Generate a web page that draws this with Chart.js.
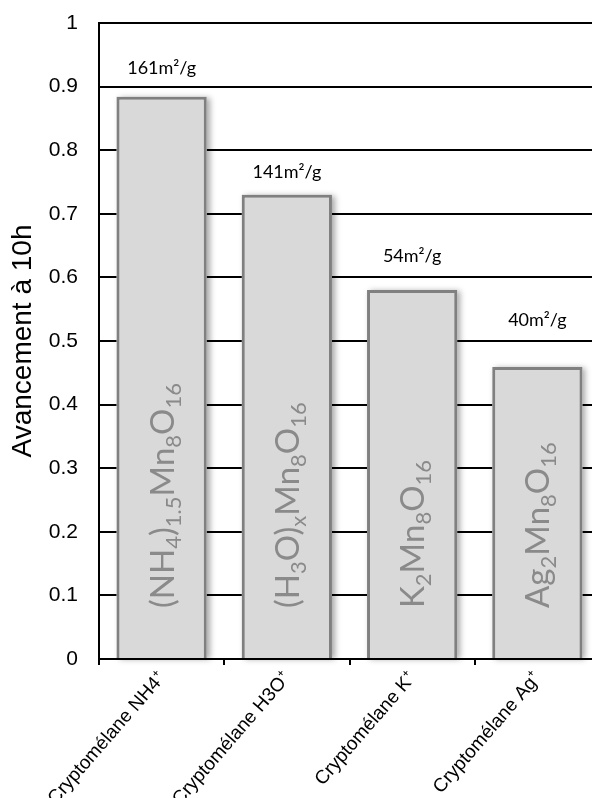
<!DOCTYPE html>
<html>
<head>
<meta charset="utf-8">
<script src="https://cdn.jsdelivr.net/npm/chart.js@4.4.0/dist/chart.umd.min.js"></script>
<style>
    html, body { margin: 0; padding: 0; background: #fff; overflow: hidden; }
    #wrap { width: 600px; height: 798px; }
</style>
</head>
<body>
<div id="wrap"><canvas id="chart" width="600" height="798"></canvas></div>
<script>
// données
const categories = ['Cryptomélane NH4⁺', 'Cryptomélane H3O⁺', 'Cryptomélane K⁺', 'Cryptomélane Ag⁺'];
const advancement = [0.884, 0.730, 0.580, 0.459];
const surfaceAreas = ['161m²/g', '141m²/g', '54m²/g', '40m²/g'];
// formules : [texte, indice ?]
const formulas = [
    [['(NH', false], ['4', true], [')', false], ['1.5', true], ['Mn', false], ['8', true], ['O', false], ['16', true]],
    [['(H', false], ['3', true], ['O)', false], ['x', true], ['Mn', false], ['8', true], ['O', false], ['16', true]],
    [['K', false], ['2', true], ['Mn', false], ['8', true], ['O', false], ['16', true]],
    [['Ag', false], ['2', true], ['Mn', false], ['8', true], ['O', false], ['16', true]]
];

const COLORS = {
    barFill: '#d9d9d9',
    barBorder: '#808080',
    formula: '#8a8a8a',
    axis: '#000000'
};

// ombre des barres + textes (surface spécifique, formule)
const barDecor = {
    id: 'barDecor',
    beforeDatasetsDraw(chart) {
        const ctx = chart.ctx;
        chart.getDatasetMeta(0).data.forEach(bar => {
            const w = bar.width;
            ctx.save();
            ctx.shadowColor = 'rgba(0, 0, 0, 0.35)';
            ctx.shadowBlur = 6;
            ctx.shadowOffsetX = 3;
            ctx.shadowOffsetY = 1;
            ctx.fillStyle = COLORS.barFill;
            ctx.fillRect(bar.x - w / 2, bar.y, w, bar.base - bar.y);
            ctx.restore();
        });
    },
    afterDatasetsDraw(chart, args, opts) {
        const ctx = chart.ctx;
        chart.getDatasetMeta(0).data.forEach((bar, i) => {
            ctx.save();
            ctx.font = '18px Lato';
            ctx.fillStyle = '#000';
            ctx.textAlign = 'center';
            ctx.textBaseline = 'middle';
            ctx.fillText(surfaceAreas[i], bar.x, bar.y - opts.labelOffsets[i]);
            ctx.restore();

            ctx.save();
            ctx.translate(bar.x + 12, bar.base - 50);
            ctx.rotate(-Math.PI / 2);
            ctx.fillStyle = COLORS.formula;
            ctx.textBaseline = 'alphabetic';
            let x = 0;
            formulas[i].forEach(([t, sub]) => {
                ctx.font = sub ? '22px Lato' : '33px Lato';
                ctx.fillText(t, x, sub ? 7 : 0);
                x += ctx.measureText(t).width;
            });
            ctx.restore();
        });
    }
};

new Chart(document.getElementById('chart'), {
    type: 'bar',
    data: {
        labels: categories,
        datasets: [{
            data: advancement,
            backgroundColor: COLORS.barFill,
            borderColor: COLORS.barBorder,
            borderWidth: 3,
            categoryPercentage: 1,
            barPercentage: 0.72
        }]
    },
    options: {
        responsive: false,
        animation: false,
        layout: { padding: { top: 23, right: 0, left: 0, bottom: 0 } },
        plugins: {
            legend: { display: false },
            tooltip: { enabled: false },
            barDecor: { labelOffsets: [29, 23, 34, 47] }
        },
        scales: {
            y: {
                min: 0,
                max: 1,
                afterFit: s => { s.width = 99; s.paddingTop = 0; s.paddingBottom = 0; },
                ticks: {
                    stepSize: 0.1,
                    padding: 21,
                    color: '#000',
                    font: { family: "'Liberation Sans', Arial, sans-serif", size: 21 },
                    callback: v => String(Number(v.toFixed(1)))
                },
                grid: { color: COLORS.axis, lineWidth: 2, drawTicks: false },
                border: { display: true, color: COLORS.axis, width: 2 },
                title: {
                    display: true,
                    text: 'Avancement à 10h',
                    color: '#000',
                    font: { family: "'Liberation Sans', Arial, sans-serif", size: 28 },
                    padding: { top: 6, bottom: 0 }
                }
            },
            x: {
                afterFit: s => { s.height = 139; s.paddingLeft = 0; s.paddingRight = 0; },
                ticks: {
                    minRotation: 49,
                    maxRotation: 49,
                    autoSkip: false,
                    padding: 3,
                    color: '#000',
                    font: { family: "'Liberation Sans', Arial, sans-serif", size: 19 }
                },
                grid: { drawOnChartArea: false, offset: true, tickLength: 6, color: COLORS.axis, lineWidth: 2 },
                border: { display: true, color: COLORS.axis, width: 2 }
            }
        }
    },
    plugins: [barDecor]
});
</script>
</body>
</html>
